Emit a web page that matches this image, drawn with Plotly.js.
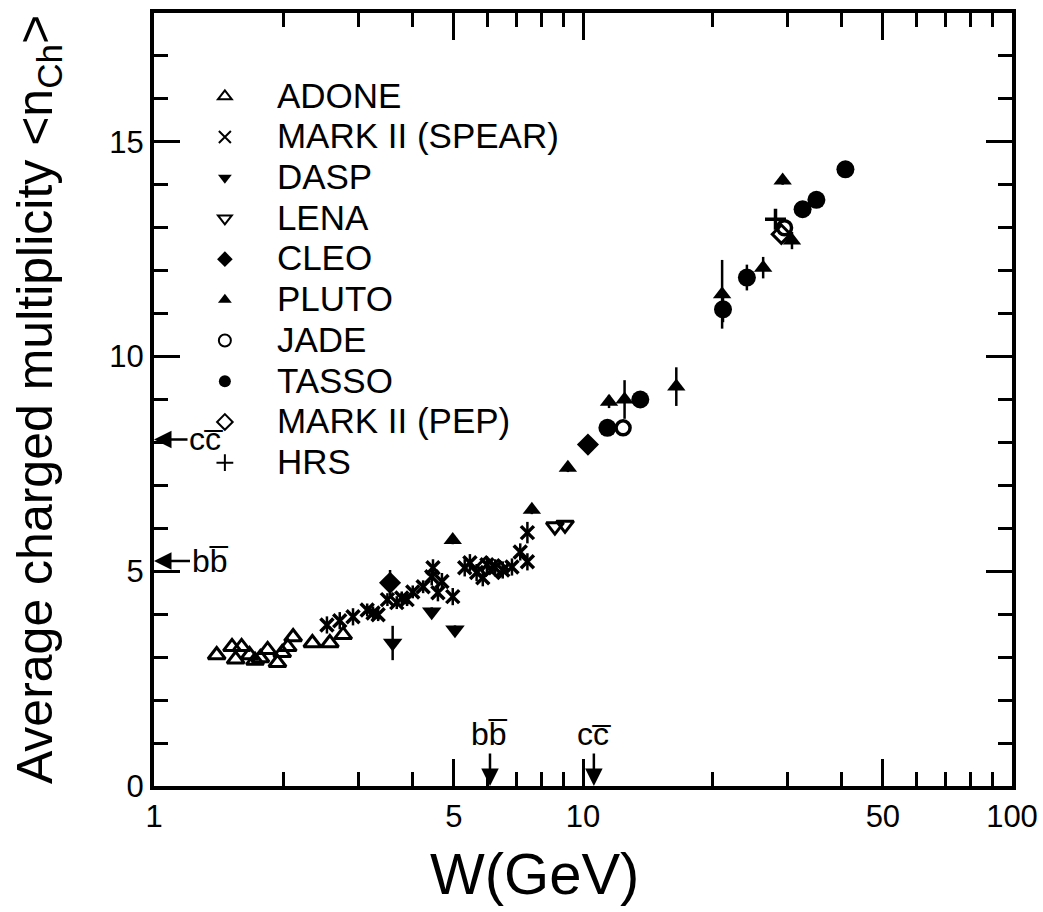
<!DOCTYPE html>
<html>
<head>
<meta charset="utf-8">
<script src="https://cdn.plot.ly/plotly-3.0.1.min.js"></script>
<style>html,body{margin:0;padding:0;background:#fff;}#chart{width:1043px;height:912px;}</style>
</head>
<body>
<div id="chart"></div>
<script>
// ---- data (W in GeV, average charged multiplicity) ----
const ADONE_W = [1.40, 1.52, 1.55, 1.60, 1.67, 1.72, 1.77, 1.84, 1.94, 1.99, 2.05, 2.11, 2.34, 2.57, 2.76];
const ADONE_N = [3.05, 3.24, 2.95, 3.24, 3.05, 2.92, 2.98, 3.17, 2.87, 3.10, 3.24, 3.47, 3.33, 3.33, 3.52];

const MK2S_W = [2.53, 2.71, 2.91, 3.14, 3.24, 3.33, 3.50, 3.68, 3.78, 3.89, 4.01, 4.24, 4.44, 4.47, 4.59, 4.69, 4.97, 5.30, 5.45, 5.65, 5.84, 5.97, 6.24, 6.50, 6.83, 7.14, 7.42, 7.42];
const MK2S_N = [3.75, 3.85, 3.94, 4.10, 4.03, 3.99, 4.34, 4.27, 4.38, 4.34, 4.52, 4.64, 4.87, 5.08, 4.50, 4.76, 4.41, 5.08, 5.20, 4.97, 4.85, 5.15, 5.08, 5.03, 5.10, 5.45, 5.90, 5.22];
const MK2S_E = [0.2, 0.2, 0.2, 0.15, 0.15, 0.15, 0.15, 0.15, 0.15, 0.15, 0.15, 0.15, 0.2, 0.2, 0.2, 0.2, 0.2, 0.2, 0.2, 0.2, 0.2, 0.2, 0.2, 0.2, 0.2, 0.2, 0.25, 0.2];

const DASP_W = [3.60, 4.44, 5.03];
const DASP_N = [3.33, 4.06, 3.64];
const DASP_E = [0.40, 0.1, 0.1];

const LENA_W = [8.6, 9.08];
const LENA_N = [6.04, 6.08];

const CLEO_W = [3.55, 10.27];
const CLEO_N = [4.73, 7.95];
const CLEO_E = [0.3, 0.1];

const PLUTO_W = [4.97, 7.6, 9.22, 11.5, 12.5, 16.5, 21.1, 26.3, 29.2, 30.7];
const PLUTO_N = [5.73, 6.43, 7.41, 8.95, 9.00, 9.30, 11.45, 12.07, 14.10, 12.70];
const PLUTO_E = [0.1, 0.1, 0.1, 0.15, 0.45, 0.45, 0.8, 0.25, 0.1, 0.2];

const JADE_W = [12.4, 29.5];
const JADE_N = [8.34, 13.0];

const TASSO_W = [11.4, 13.6, 21.2, 24.1, 32.5, 35.0, 40.9];
const TASSO_N = [8.34, 9.00, 11.10, 11.84, 13.43, 13.65, 14.36];
const TASSO_E = [0.1, 0.1, 0.3, 0.3, 0.1, 0.1, 0.1];

const MK2P_W = [5.95, 6.35, 29.0];
const MK2P_N = [5.12, 5.05, 12.85];

const HRS_W = [28.1];
const HRS_N = [13.2];

const XTICKS = [1, 5, 10, 50, 100];
const XMINOR = [2, 3, 4, 6, 7, 8, 9, 20, 30, 40, 60, 70, 80, 90];
const YTICKS = [0, 5, 10, 15];
const YMINOR = [1, 2, 3, 4, 6, 7, 8, 9, 11, 12, 13, 14, 16, 17];

const BLK = '#000';
function errs(arr) {
  return {type: 'data', array: arr, visible: true, color: BLK, thickness: 2.5, width: 0};
}
function lname(s) {
  return '<span style="font-size:35px">' + s + '</span>';
}
function tr(name, x, y, symbol, size, e, lw) {
  const t = {
    name: lname(name), x: x, y: y, type: 'scatter', mode: 'markers',
    marker: {symbol: symbol, size: size, color: BLK, line: {color: BLK, width: lw || 0}}
  };
  if (e) t.error_y = errs(e);
  return t;
}

const data = [
  tr('ADONE', ADONE_W, ADONE_N, 'triangle-up-open', 15, null, 3),
  tr('MARK II (SPEAR)', MK2S_W, MK2S_N, 'x-thin', 13, MK2S_E, 3.5),
  tr('DASP', DASP_W, DASP_N, 'triangle-down', 17, DASP_E, 0),
  tr('LENA', LENA_W, LENA_N, 'triangle-down-open', 15, null, 3),
  tr('CLEO', CLEO_W, CLEO_N, 'diamond', 17, CLEO_E, 0),
  tr('PLUTO', PLUTO_W, PLUTO_N, 'triangle-up', 16, PLUTO_E, 0),
  tr('JADE', JADE_W, JADE_N, 'circle-open', 14, null, 3.5),
  tr('TASSO', TASSO_W, TASSO_N, 'circle', 18, TASSO_E, 0),
  tr('MARK II (PEP)', MK2P_W, MK2P_N, 'diamond-open', 14, null, 3),
  tr('HRS', HRS_W, HRS_N, 'cross-thin', 15, null, 3.5)
];

const FONT = 'Liberation Sans, Arial, Helvetica, sans-serif';
const ARROW = {showarrow: true, arrowhead: 2, arrowsize: 1.4, arrowwidth: 2.5, arrowcolor: BLK, standoff: 0,
               font: {family: FONT, size: 32, color: BLK}};

const layout = {
  width: 1043, height: 912,
  margin: {l: 154, r: 31, t: 13, b: 126},
  paper_bgcolor: '#fff', plot_bgcolor: '#fff',
  font: {family: FONT, color: BLK},
  showlegend: true,
  legend: {
    x: 0.022, y: 0.925, xanchor: 'left', yanchor: 'top',
    font: {family: FONT, size: 29, color: BLK},
    bgcolor: 'rgba(0,0,0,0)', borderwidth: 0,
    itemsizing: 'constant', itemwidth: 94
  },
  xaxis: {
    type: 'log', range: [0, 2], autorange: false,
    showgrid: false, zeroline: false,
    showline: true, linecolor: BLK, linewidth: 4, mirror: 'ticks',
    ticks: 'inside', ticklen: 27, tickwidth: 3, tickcolor: BLK,
    tickmode: 'array', tickvals: XTICKS, ticktext: XTICKS.map(String),
    tickfont: {family: FONT, size: 31, color: BLK},
    minor: {tickmode: 'array', tickvals: XMINOR, ticks: 'inside', ticklen: 14, tickwidth: 3, tickcolor: BLK, showgrid: false}
  },
  yaxis: {
    range: [0, 18], autorange: false,
    showgrid: false, zeroline: false,
    showline: true, linecolor: BLK, linewidth: 4, mirror: 'ticks',
    ticks: 'inside', ticklen: 26, tickwidth: 3, tickcolor: BLK,
    tickmode: 'array', tickvals: YTICKS, ticktext: YTICKS.map(String),
    tickfont: {family: FONT, size: 31, color: BLK},
    minor: {tickmode: 'array', tickvals: YMINOR, ticks: 'inside', ticklen: 14, tickwidth: 3, tickcolor: BLK, showgrid: false},
    title: {text: 'Average charged multiplicity &lt;n<sub>Ch</sub>&gt;', font: {family: FONT, size: 50, color: BLK}, standoff: 42}
  },
  annotations: [
    {xref: 'paper', yref: 'paper', x: 0.443, y: -0.1138, xanchor: 'center', yanchor: 'middle',
     text: 'W(GeV)', showarrow: false, font: {family: FONT, size: 58, color: BLK}},
    Object.assign({xref: 'x', yref: 'y', x: 0, y: 8.07, ax: 52, ay: 0, text: 'cc\u0305'}, ARROW),
    Object.assign({xref: 'x', yref: 'y', x: 0, y: 5.24, ax: 56, ay: 0, text: 'bb\u0305'}, ARROW),
    Object.assign({xref: 'x', yref: 'y', x: Math.log10(6.07), y: 0, ax: 0, ay: -52, text: 'bb\u0305'}, ARROW),
    Object.assign({xref: 'x', yref: 'y', x: Math.log10(10.6), y: 0, ax: 0, ay: -52, text: 'cc\u0305'}, ARROW)
  ]
};

Plotly.newPlot('chart', data, layout, {staticPlot: true, displayModeBar: false});
</script>
</body>
</html>
